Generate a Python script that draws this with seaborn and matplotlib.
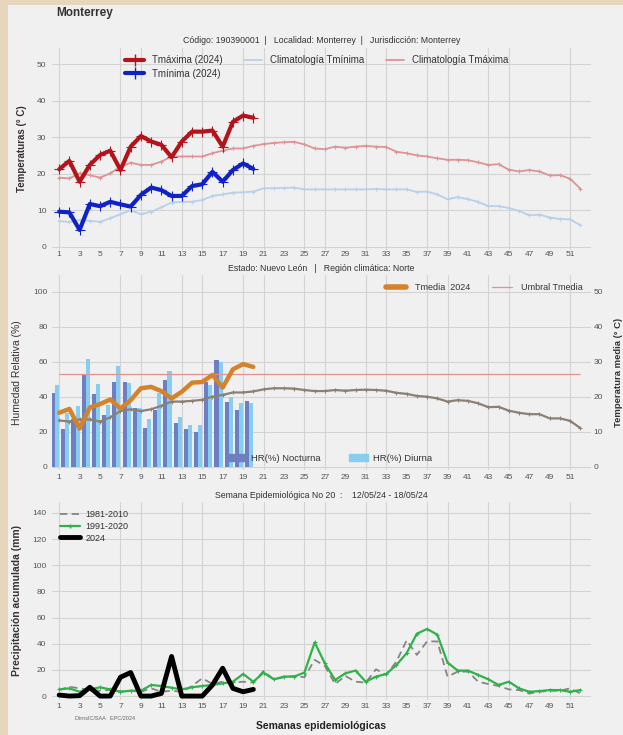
import numpy as np
import pandas as pd
import matplotlib
matplotlib.use("Agg")
import matplotlib.pyplot as plt
import seaborn as sns
from matplotlib.lines import Line2D
from matplotlib.patches import Patch, Rectangle

# ---- data ----
weeks = np.arange(1, 53)
weeks_2024 = np.arange(1, 21)

tmax_2024 = [21.2, 23.5, 17.8, 22.4, 25.1, 26.3, 21.0, 27.4, 30.3, 28.8,
             27.9, 24.5, 28.8, 31.5, 31.5, 31.8, 27.4, 34.2, 35.9, 35.3]
tmin_2024 = [9.6, 9.4, 4.6, 11.7, 11.1, 12.3, 11.6, 11.0, 14.2, 16.2,
             15.5, 13.9, 13.9, 16.6, 17.1, 20.5, 17.8, 21.0, 22.8, 21.3]
clim_tmax = [18.9, 18.7, 20.1, 19.6, 18.9, 20.1, 21.9, 23.0, 22.4, 22.4,
             23.3, 24.7, 24.7, 24.7, 24.7, 25.6, 26.3, 26.9, 26.9, 27.6,
             28.1, 28.4, 28.6, 28.7, 28.0, 26.9, 26.7, 27.4, 27.1, 27.4,
             27.6, 27.4, 27.3, 26.0, 25.6, 25.0, 24.7, 24.2, 23.8, 23.8,
             23.7, 23.1, 22.4, 22.6, 21.1, 20.6, 21.0, 20.6, 19.5, 19.6,
             18.6, 15.9]
clim_tmin = [7.0, 6.8, 7.3, 7.1, 6.8, 7.8, 8.9, 10.0, 8.9, 9.6,
             10.8, 12.1, 12.3, 12.3, 12.8, 13.9, 14.3, 14.8, 14.9, 15.1,
             16.0, 16.0, 16.1, 16.2, 15.7, 15.7, 15.7, 15.7, 15.7, 15.7,
             15.7, 15.8, 15.7, 15.7, 15.7, 15.0, 15.1, 14.3, 13.0, 13.6,
             13.0, 12.3, 11.1, 11.1, 10.6, 9.8, 8.6, 8.8, 8.0, 7.6,
             7.5, 5.9]

hr_nocturna = [41.9, 21.5, 27.0, 53.0, 41.3, 29.3, 48.2, 48.2, 33.7, 22.3,
               32.4, 49.5, 24.8, 21.7, 19.6, 48.6, 61.0, 36.8, 32.4, 37.5]
hr_diurna = [46.7, 30.5, 34.9, 61.3, 47.2, 35.0, 57.7, 47.6, 33.3, 27.2,
             41.9, 54.7, 28.2, 23.8, 23.8, 46.7, 59.6, 39.6, 36.2, 36.6]
tmedia_2024 = [15.4, 16.5, 10.9, 16.9, 17.9, 19.2, 16.6, 19.0, 22.4, 22.8,
               21.6, 19.5, 21.4, 24.0, 24.2, 26.2, 22.6, 27.8, 29.3, 28.5]
clim_tmedia = [13.2, 12.9, 13.5, 13.5, 12.9, 14.1, 15.9, 16.4, 15.9, 16.4,
               17.4, 18.6, 18.6, 18.8, 19.1, 20.0, 20.5, 21.2, 21.2, 21.5,
               22.1, 22.4, 22.4, 22.3, 21.9, 21.6, 21.6, 21.9, 21.7, 21.9,
               22.0, 21.9, 21.7, 21.1, 20.8, 20.2, 20.0, 19.5, 18.6, 19.0,
               18.8, 18.1, 17.0, 17.1, 16.0, 15.4, 15.0, 15.0, 13.8, 13.8,
               13.1, 11.0]
umbral_tmedia = 26.5

precip_8110 = [4.6, 7.2, 5.9, 4.6, 4.1, 4.6, 3.5, 4.0, 3.3, 5.9,
               3.3, 4.1, 3.3, 7.7, 13.6, 9.2, 11.0, 10.3, 11.0, 10.3,
               19.2, 12.8, 14.4, 15.4, 14.4, 27.7, 23.0, 9.2, 15.4, 11.0,
               10.3, 20.5, 16.2, 26.4, 42.6, 31.5, 41.8, 41.8, 14.9, 18.7,
               18.7, 11.0, 9.2, 7.7, 5.1, 4.6, 2.0, 3.3, 4.1, 4.1,
               5.9, 2.0]
precip_9120 = [5.1, 5.9, 3.3, 5.1, 6.7, 5.1, 3.3, 4.1, 4.1, 8.5,
               7.7, 6.4, 5.1, 6.7, 7.7, 8.5, 9.7, 11.0, 16.9, 11.0,
               17.9, 12.8, 14.9, 14.9, 18.0, 41.0, 25.0, 12.3, 17.4, 19.5,
               11.0, 14.9, 16.9, 23.8, 32.8, 47.7, 51.3, 47.0, 25.6, 19.5,
               19.5, 16.2, 12.8, 8.5, 11.0, 5.9, 3.3, 3.8, 4.6, 4.6,
               3.3, 4.6]
precip_2024 = [0.8, 0.0, 0.3, 6.7, 0.0, 0.0, 14.4, 18.0, 0.0, 0.0,
               2.0, 30.3, 0.0, 0.0, 0.0, 8.5, 21.3, 5.9, 3.3, 5.1]

xtick_weeks = list(range(1, 53, 2))
grid_weeks = [1, 7, 9, 13, 15, 19, 21, 25, 27, 31, 33, 37, 39, 43, 45, 51]

# ---- style ----
panel = "#f0f0f0"
sns.set_theme(style="whitegrid", rc={
    "axes.facecolor": panel,
    "grid.color": "#d3d3d3",
    "grid.linewidth": 0.8,
})
plt.rcParams['font.family'] = ['Liberation Sans', 'DejaVu Sans']
plt.rcParams['text.color'] = '#333333'

W, H = 623, 735
fig = plt.figure(figsize=(W / 100, H / 100), dpi=100, facecolor="#e6d6bd")
fig.add_artist(Rectangle((8 / W, 0), 1, 1 - 5 / H, transform=fig.transFigure,
                         facecolor=panel, edgecolor="none", zorder=-5))

left, width = 52 / W, 538.6 / W


def px_axes(top, bottom):
    return fig.add_axes([left, 1 - bottom / H, width, (bottom - top) / H])


def style_axis(ax, ypad=3.5, xpad=1):
    ax.set_xlim(0.3, 53)
    ax.set_xticks(xtick_weeks)
    ax.set_xticklabels([str(w) for w in xtick_weeks])
    ax.grid(False, axis="x")
    for w in grid_weeks:
        ax.axvline(w, color="#d3d3d3", lw=0.8, zorder=0)
    ax.tick_params(axis="both", length=0, labelsize=6, colors="#555555")
    ax.tick_params(axis="y", pad=ypad)
    ax.tick_params(axis="x", pad=xpad)
    for s in ax.spines.values():
        s.set_visible(False)


# ---- panel 1: temperatures ----
ax1 = px_axes(47.6, 250.4)
style_axis(ax1, ypad=4, xpad=0.5)
ax1.set_ylim(-1, 54.5)
ax1.set_yticks([0, 10, 20, 30, 40, 50])

c_tmax, c_tmin = "#b3141b", "#1022c4"
c_ctmax, c_ctmin = "#dd9494", "#b9d0ea"
sns.lineplot(x=weeks, y=clim_tmin, ax=ax1, color=c_ctmin, lw=1.3, marker="+",
             markersize=3, markeredgecolor=c_ctmin)
sns.lineplot(x=weeks, y=clim_tmax, ax=ax1, color=c_ctmax, lw=1.3, marker="+",
             markersize=3, markeredgecolor=c_ctmax)
sns.lineplot(x=weeks_2024, y=tmax_2024, ax=ax1, color=c_tmax, lw=3, marker="+",
             markersize=7, markeredgewidth=0.8, markeredgecolor=c_tmax)
sns.lineplot(x=weeks_2024, y=tmin_2024, ax=ax1, color=c_tmin, lw=3, marker="+",
             markersize=7, markeredgewidth=0.8, markeredgecolor=c_tmin)
ax1.set_xlabel("")
ax1.set_ylabel("Temperaturas (° C)", fontsize=7, fontweight="bold", color="#333333")
ax1.yaxis.set_label_coords(-0.046, 0.5)
ax1.set_title("Código: 190390001  |   Localidad: Monterrey  |   Jurisdicción: Monterrey",
              fontsize=6.3, pad=3, color="#333333")
h1 = [Line2D([], [], color=c_tmax, lw=3, marker="+", ms=8, mew=1),
      Line2D([], [], color=c_tmin, lw=3, marker="+", ms=8, mew=1),
      Line2D([], [], color=c_ctmin, lw=1.3),
      Line2D([], [], color=c_ctmax, lw=1.3)]
ax1.legend(h1, ["Tmáxima (2024)", "Tmínima (2024)", "Climatología Tmínima",
                "Climatología Tmáxima"],
           ncol=3, loc="upper left", bbox_to_anchor=(0.12, 1.005), frameon=False,
           fontsize=7, handlelength=1.9, columnspacing=2.2, labelspacing=0.35,
           handletextpad=0.8)

fig.text(56 / W, 1 - 13 / H, "Monterrey", fontsize=8.5, fontweight="bold",
         va="center", ha="left", color="#333333")

# ---- panel 2: humidity + mean temperature ----
ax2 = px_axes(275, 470.2)
style_axis(ax2, ypad=3, xpad=3)
ax2.set_ylim(-2, 109.5)
ax2.set_yticks([0, 20, 40, 60, 80, 100])

c_noc, c_diu = "#6e7ec2", "#86cdef"
hr = pd.DataFrame({
    "pos": np.concatenate([weeks_2024 - 0.4, weeks_2024 - 0.4]),
    "hr": np.concatenate([hr_nocturna, hr_diurna]),
    "tipo": ["HR(%) Nocturna"] * 20 + ["HR(%) Diurna"] * 20,
})
sns.barplot(data=hr, x="pos", y="hr", hue="tipo", native_scale=True,
            palette=[c_noc, c_diu], errorbar=None, width=0.8, legend=False,
            saturation=1, linewidth=0, ax=ax2)
ax2.set_xlim(0.3, 53)
ax2.set_xticks(xtick_weeks)
ax2.set_xticklabels([str(w) for w in xtick_weeks])
ax2.set_xlabel("")
ax2.set_ylabel("Humedad Relativa (%)", fontsize=7.5, color="#333333")
ax2.yaxis.set_label_coords(-0.056, 0.5)
ax2.set_title("Estado: Nuevo León   |   Región climática: Norte",
              fontsize=6.3, pad=3, color="#333333")
ax2.legend([Patch(color=c_noc), Patch(color=c_diu)],
           ["HR(%) Nocturna", "HR(%) Diurna"], loc="lower left",
           bbox_to_anchor=(0.31, -0.005), ncol=2, frameon=False, fontsize=6.8,
           handlelength=2.0, handleheight=0.8, columnspacing=3.0,
           handletextpad=0.5)

ax2r = ax2.twinx()
ax2r.set_ylim(-1, 54.75)
ax2r.set_yticks([0, 10, 20, 30, 40, 50])
ax2r.grid(False)
ax2r.tick_params(axis="y", length=0, labelsize=6, colors="#555555", pad=2)
for s in ax2r.spines.values():
    s.set_visible(False)
c_tmed, c_ctmed, c_umb = "#d4832c", "#8c7f74", "#e39090"
ax2r.hlines(umbral_tmedia, weeks[0], weeks[-1], color=c_umb, lw=0.9)
sns.lineplot(x=weeks, y=clim_tmedia, ax=ax2r, color=c_ctmed, lw=1.6, marker="+",
             markersize=3, markeredgecolor=c_ctmed)
sns.lineplot(x=weeks_2024, y=tmedia_2024, ax=ax2r, color=c_tmed, lw=3.2)
ax2r.set_ylabel("Temperatura media (° C)", fontsize=6.8, fontweight="bold",
                color="#333333")
ax2r.yaxis.set_label_coords(1.044, 0.5)
ax2r.legend([Line2D([], [], color=c_tmed, lw=4), Line2D([], [], color=c_umb, lw=0.9)],
            ["Tmedia  2024", "Umbral Tmedia"], loc="upper right",
            bbox_to_anchor=(1.0, 1.0), ncol=2, frameon=False, fontsize=6.5,
            handlelength=2.2, columnspacing=2.4, handletextpad=1.0)

# ---- panel 3: precipitation ----
ax3 = px_axes(502, 700)
style_axis(ax3, ypad=4, xpad=2)
ax3.set_ylim(-3, 148.4)
ax3.set_yticks(range(0, 141, 20))
c_8110, c_9120 = "#858585", "#2fb24a"
sns.lineplot(x=weeks, y=precip_8110, ax=ax3, color=c_8110, lw=1.3,
             linestyle=(0, (4, 2.5)))
sns.lineplot(x=weeks, y=precip_9120, ax=ax3, color=c_9120, lw=1.6, marker="+",
             markersize=3, markeredgecolor=c_9120)
sns.lineplot(x=weeks_2024, y=precip_2024, ax=ax3, color="black", lw=3.5)
ax3.set_ylabel("Precipitación acumulada (mm)", fontsize=7.5, fontweight="bold",
               color="#333333")
ax3.yaxis.set_label_coords(-0.056, 0.5)
ax3.set_xlabel("Semanas epidemiológicas", fontsize=7.5, fontweight="bold",
               color="#222222", labelpad=8)
ax3.set_title("Semana Epidemiológica No 20  :    12/05/24 - 18/05/24",
              fontsize=6.3, pad=3, color="#333333")
ax3.legend([Line2D([], [], color=c_8110, lw=1.3, linestyle=(0, (4, 2.5))),
            Line2D([], [], color=c_9120, lw=1.6, marker="+", ms=3),
            Line2D([], [], color="black", lw=3.5)],
           ["1981-2010", "1991-2020", "2024"], loc="upper left",
           bbox_to_anchor=(0.0, 1.0), frameon=False, fontsize=6.5,
           handlelength=2.2, labelspacing=0.3, handletextpad=0.6)
fig.text(75 / W, 1 - 718 / H, "DirnsIC/SAA   EPC/2024", fontsize=4,
         color="#666666", va="center")

fig.savefig("out.png", dpi=100, facecolor=fig.get_facecolor())
